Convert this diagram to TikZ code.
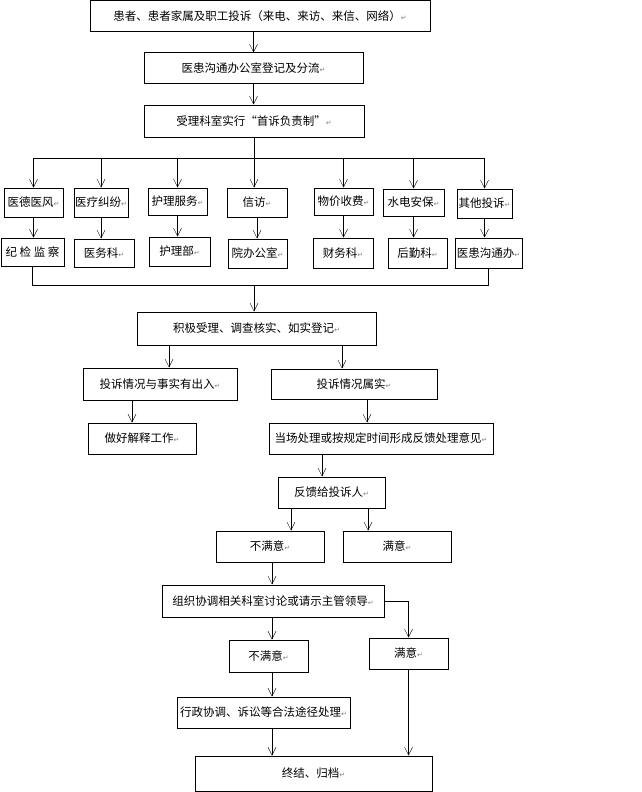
\documentclass[tikz,border=0pt]{standalone}
\usepackage{fontspec}
\setmainfont{Noto Sans CJK SC}
\newfontfamily\symfont{DejaVu Sans}
\usetikzlibrary{arrows.meta}
\newcommand{\ret}{{\symfont\color{gray}\fontsize{7}{7}\selectfont ↵}}

\begin{document}
\begin{tikzpicture}[x=1pt, y=-1pt, >={Straight Barb[length=8pt,width=8pt]},
	box/.style={draw, line width=1pt, inner sep=0pt, font=\fontsize{11.5}{14}\selectfont}]
	%\draw[help lines] (0,0) grid (641,792);
	\useasboundingbox (0,0) rectangle (641,792);
	\node[box, minimum width=340, minimum height=31] (comp) at (260,16.5) {患者、患者家属及职工投诉（来电、来访、来信、网络）\ret};
	\node[box, minimum width=219, minimum height=30] (reg) at (253.5,68) {医患沟通办公室登记及分流\ret};
	\node[box, minimum width=220, minimum height=32] (first) at (254,121) {受理科室实行“首诉负责制”\ret};
	% categories
	\node[box, minimum width=59, minimum height=29] (ethic) at (33.5,202.5) {医德医风\ret};
	\node[box, minimum width=54, minimum height=29] (dispute) at (101,202.5) {医疗纠纷\ret};
	\node[box, minimum width=59, minimum height=27] (nursing) at (177.5,201.5) {护理服务\ret};
	\node[box, minimum width=60, minimum height=29] (letter) at (257,202.5) {信访\ret};
	\node[box, minimum width=59, minimum height=27] (price) at (343.5,201.5) {物价收费\ret};
	\node[box, minimum width=61, minimum height=27] (utility) at (413.5,202.5) {水电安保\ret};
	\node[box, minimum width=55, minimum height=29] (other) at (484.5,203.5) {其他投诉\ret};
	% departments
	\node[box, minimum width=63, minimum height=28] (discip) at (32.5,252) {纪 检 监 察};
	\node[box, minimum width=60, minimum height=28] (medaff) at (104,253) {医务科\ret};
	\node[box, minimum width=61, minimum height=29] (nursedept) at (179.5,251.5) {护理部\ret};
	\node[box, minimum width=59, minimum height=29] (office) at (257.5,253.5) {院办公室\ret};
	\node[box, minimum width=60, minimum height=30] (finance) at (343,253) {财务科\ret};
	\node[box, minimum width=59, minimum height=30] (logist) at (417.5,253) {后勤科\ret};
	\node[box, minimum width=67, minimum height=30] (commoff) at (488.5,253) {医患沟通办\ret};
	% handling
	\node[box, minimum width=239, minimum height=33] (verify) at (256.5,328.5) {积极受理、调查核实、如实登记\ret};
	\node[box, minimum width=154, minimum height=32] (mismatch) at (160,384) {投诉情况与事实有出入\ret};
	\node[box, minimum width=166, minimum height=30] (fact) at (354,384) {投诉情况属实\ret};
	\node[box, minimum width=108, minimum height=31] (explain) at (142,438.5) {做好解释工作\ret};
	\node[box, minimum width=224, minimum height=31] (handle) at (381,438.5) {当场处理或按规定时间形成反馈处理意见\ret};
	\node[box, minimum width=107, minimum height=31] (feedback) at (331.5,492.5) {反馈给投诉人\ret};
	\node[box, minimum width=108, minimum height=31] (unsat) at (270,546.5) {不满意\ret};
	\node[box, minimum width=108, minimum height=31] (sat) at (397,546.5) {满意\ret};
	\node[box, minimum width=222, minimum height=32] (coord) at (273,601) {组织协调相关科室讨论或请示主管领导\ret};
	\node[box, minimum width=79, minimum height=32] (unsatb) at (268.5,656) {不满意\ret};
	\node[box, minimum width=79, minimum height=31] (satb) at (408.5,653.5) {满意\ret};
	\node[box, minimum width=173, minimum height=31] (legal) at (263.5,712.5) {行政协调、诉讼等合法途径处理\ret};
	\node[box, minimum width=237, minimum height=35] (close) at (313.5,773.5) {终结、归档\ret};
	% arrows
	\draw[->] (comp.south -| reg.north) -- (reg.north);
	\draw[->] (reg.south) -- (reg.south |- first.north);
	\coordinate (bus) at (254,158);
	\draw (bus -| ethic.north) -- (bus -| other.north);
	\draw[->] (first.south) -- (first.south |- letter.north);
	\foreach \n in {ethic,dispute,nursing,price,utility,other}
		\draw[->] (bus -| \n.north) -- (\n.north);
	\foreach \a/\b in {ethic/discip,dispute/medaff,nursing/nursedept,letter/office,price/finance,utility/logist,other/commoff}
		\draw[->] (\a.south) -- (\a.south |- \b.north);
	\coordinate (bus2) at (254,285);
	\draw (discip.south) |- (bus2 -| commoff.south) -- (commoff.south);
	\draw[->] (bus2) -- (bus2 |- verify.north);
	\coordinate (la) at (169,0);
	\coordinate (lb) at (342,0);
	\coordinate (lc) at (132,0);
	\coordinate (ld) at (367,0);
	\coordinate (le) at (322,0);
	\coordinate (lf) at (291,0);
	\coordinate (lg) at (368,0);
	\coordinate (lh) at (272,0);
	\draw[->] (verify.south -| la) -- (mismatch.north -| la);
	\draw[->] (verify.south -| lb) -- (fact.north -| lb);
	\draw[->] (mismatch.south -| lc) -- (explain.north -| lc);
	\draw[->] (fact.south -| ld) -- (handle.north -| ld);
	\draw[->] (handle.south -| le) -- (feedback.north -| le);
	\draw[->] (feedback.south -| lf) -- (unsat.north -| lf);
	\draw[->] (feedback.south -| lg) -- (sat.north -| lg);
	\draw[->] (unsat.south -| lh) -- (coord.north -| lh);
	\draw[->] (coord.south -| lh) -- (unsatb.north -| lh);
	\draw[->] (coord.east) -| (satb.north);
	\draw[->] (unsatb.south -| lh) -- (legal.north -| lh);
	\draw[->] (legal.south -| lh) -- (close.north -| lh);
	\draw[->] (satb.south) -- (satb.south |- close.north);
\end{tikzpicture}
\end{document}
